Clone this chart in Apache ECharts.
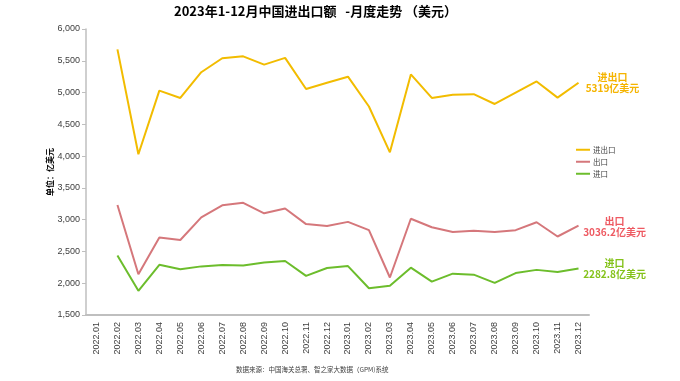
<!DOCTYPE html>
<html>
<head>
<meta charset="utf-8">
<script src="https://cdn.jsdelivr.net/npm/echarts@6/dist/echarts.min.js"></script>
<style>html,body{margin:0;padding:0;background:#fff}#c{width:680px;height:381px}</style>
</head>
<body>
<div id="c"></div>
<script>
var categories = ['2022.01','2022.02','2022.03','2022.04','2022.05','2022.06','2022.07','2022.08','2022.09','2022.10','2022.11','2022.12',
  '2023.01','2023.02','2023.03','2023.04','2023.05','2023.06','2023.07','2023.08','2023.09','2023.10','2023.11','2023.12'];
var totalValues  = [null, 5680, 4030, 5030, 4915, 5320, 5540, 5570, 5440, 5545, 5055, 5155, 5250, 4780, 4060, 5285, 4915, 4965, 4975, 4820, 5000, 5175, 4920, 5155];
var exportValues = [null, 3230, 2140, 2720, 2680, 3035, 3225, 3265, 3100, 3175, 2930, 2900, 2965, 2835, 2090, 3015, 2880, 2805, 2825, 2805, 2835, 2960, 2735, 2905];
var importValues = [null, 2435, 1880, 2290, 2220, 2265, 2285, 2280, 2325, 2350, 2115, 2240, 2270, 1920, 1960, 2245, 2025, 2150, 2135, 2005, 2160, 2210, 2175, 2230];
var seriesNames = ['进出口', '出口', '进口'];
var endLabelValues = ['5319亿美元', '3036.2亿美元', '2282.8亿美元'];
var titleText = '2023年1-12月中国进出口额   -月度走势 （美元）';
var sourceText = '数据来源：中国海关总署、智之家大数据（GPM)系统';
var yAxisName = '单位：亿美元';

var lineColors = ['#F2BC00', '#D5777B', '#6CBD2C'];
var labelColors = ['#F5B400', '#EE5A62', '#84C21A'];
var labelOffsets = [[26, 0], [28, 1], [28, 0]];
var dataSets = [totalValues, exportValues, importValues];

var chart = echarts.init(document.getElementById('c'), null, {renderer: 'canvas'});
var series = dataSets.map(function (d, i) {
  return {
    name: seriesNames[i],
    type: 'line',
    data: d,
    symbol: 'none',
    connectNulls: false,
    lineStyle: {color: lineColors[i], width: 2},
    itemStyle: {color: lineColors[i]},
    endLabel: {
      show: true,
      formatter: function () { return seriesNames[i] + '\n' + endLabelValues[i]; },
      color: labelColors[i],
      fontSize: 10,
      fontWeight: 'bold',
      lineHeight: 11,
      align: 'center',
      verticalAlign: 'middle',
      offset: labelOffsets[i],
      fontFamily: 'Noto Sans CJK SC'
    }
  };
});

chart.setOption({
  animation: false,
  backgroundColor: '#fff',
  textStyle: {fontFamily: 'Noto Sans CJK SC'},
  title: [{
    text: titleText,
    left: 169, top: 0,
    textStyle: {fontSize: 13, fontWeight: 'bold', color: '#000', fontFamily: 'Noto Sans CJK SC'}
  }, {
    text: sourceText,
    left: 231, top: 361,
    textStyle: {fontSize: 6.5, fontWeight: 'normal', color: '#404040', fontFamily: 'Noto Sans CJK SC'}
  }],
  legend: {
    orient: 'vertical',
    left: 571, top: 141,
    icon: 'rect',
    itemWidth: 14, itemHeight: 2, itemGap: 4.5,
    textStyle: {fontSize: 7.5, color: '#404040', padding: [0, 0, 0, -2]},
    data: seriesNames
  },
  grid: {left: 86, right: 91, top: 29, bottom: 66, containLabel: false},
  xAxis: {
    type: 'category',
    data: categories,
    boundaryGap: true,
    axisLine: {lineStyle: {color: '#BFBFBF', width: 2}},
    axisTick: {show: false},
    axisLabel: {rotate: 90, interval: 0, fontSize: 9, color: '#404040', margin: 7, fontFamily: 'Liberation Sans'}
  },
  yAxis: {
    type: 'value',
    min: 1500, max: 6000, interval: 500,
    name: yAxisName,
    nameLocation: 'middle',
    nameGap: 32,
    nameMoveOverlap: false,
    nameRotate: 90,
    nameTextStyle: {fontSize: 8, fontWeight: 'bold', color: '#000'},
    axisLine: {show: true, lineStyle: {color: '#BFBFBF', width: 1.5}},
    axisTick: {show: true, length: 4, lineStyle: {color: '#BFBFBF'}},
    splitLine: {show: false},
    axisLabel: {
      fontSize: 9, color: '#404040', margin: 6, fontFamily: 'Liberation Sans',
      formatter: function (v) { return v.toLocaleString('en-US'); }
    }
  },
  series: series
});
</script>
</body>
</html>
